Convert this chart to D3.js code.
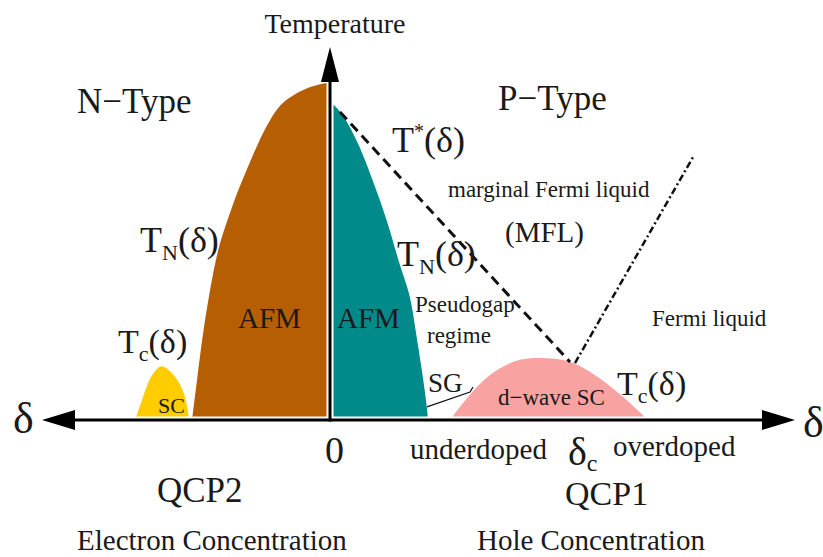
<!DOCTYPE html>
<html>
<head>
<meta charset="utf-8">
<script src="https://d3js.org/d3.v7.min.js"></script>
<style>
  body { margin: 0; background: #fff; }
  text { font-family: "Liberation Serif", "Times New Roman", serif; fill: #1a1a1a; }
</style>
</head>
<body>
<svg id="chart" width="823" height="557"></svg>
<script>
// doping delta (negative = electron side, positive = hole side), temperature T (1 = top of AFM dome)
const afmElectron = [[0, 1.0], [-0.005, 1.0], [-0.025, 0.985], [-0.042, 0.955], [-0.052, 0.929],
  [-0.062, 0.881], [-0.072, 0.822], [-0.082, 0.751], [-0.092, 0.682], [-0.100, 0.614],
  [-0.107, 0.555], [-0.112, 0.504], [-0.117, 0.436], [-0.123, 0.335], [-0.128, 0.237],
  [-0.133, 0.119], [-0.138, 0]];
const afmHole = [[0, 0.944], [0.010, 0.920], [0.020, 0.869], [0.030, 0.810], [0.040, 0.733],
  [0.050, 0.653], [0.060, 0.564], [0.070, 0.454], [0.080, 0.377], [0.085, 0.276],
  [0.092, 0.148], [0.097, 0.039], [0.098, 0]];
const scElectron = [[-0.195, 0], [-0.187, 0.068], [-0.180, 0.128], [-0.172, 0.157], [-0.167, 0.163],
  [-0.157, 0.139], [-0.148, 0.098], [-0.143, 0.050], [-0.141, 0]];
const scHole = [[0.120, 0], [0.137, 0.068], [0.160, 0.139], [0.183, 0.175], [0.197, 0.184],
  [0.217, 0.184], [0.237, 0.178], [0.253, 0.157], [0.277, 0.110], [0.297, 0.059], [0.318, 0]];
const tStar = [[0.010, 0.914], [0.240, 0.172]];
const mflBoundary = [[0.245, 0.169], [0.363, 0.780]];
const sgBoundary = [[0.097, 0.039], [0.140, 0.083], [0.143, 0.098]];
const deltaRange = [-0.288, 0.465];
const tempMax = 1.107;

const svg = d3.select('#chart');
const x = d3.scaleLinear().domain(deltaRange).range([42, 795]);
const y = d3.scaleLinear().domain([0, 1]).range([420, 83]);

const curve = d3.line().x(d => x(d[0])).y(d => y(d[1])).curve(d3.curveBasis);
const straight = d3.line().x(d => x(d[0])).y(d => y(d[1]));

// phase regions
svg.append('path').attr('d', curve(afmElectron) + 'L' + x(0) + ',' + y(0) + 'Z').attr('fill', '#b65e02');
svg.append('path').attr('d', curve(afmHole) + 'L' + x(0) + ',' + y(0) + 'Z').attr('fill', '#008a8a');
svg.append('path').attr('d', curve(scElectron) + 'Z').attr('fill', '#ffcc00');
svg.append('path').attr('d', curve(scHole) + 'Z').attr('fill', '#f9a2a2');

// crossover lines
svg.append('path').attr('d', straight(tStar)).attr('fill', 'none')
  .attr('stroke', '#111').attr('stroke-width', 3).attr('stroke-dasharray', '10,6');
svg.append('path').attr('d', straight(mflBoundary)).attr('fill', 'none')
  .attr('stroke', '#111').attr('stroke-width', 2.5).attr('stroke-dasharray', '7,3,2,3');
svg.append('path').attr('d', straight(sgBoundary)).attr('fill', 'none')
  .attr('stroke', '#111').attr('stroke-width', 1.2);

// axes with arrows
const ah = 33, aw = 10;
const x0 = x(0), y0 = y(0);
const xl = x(deltaRange[0]), xr = x(deltaRange[1]), yt = y(tempMax);
svg.append('line').attr('x1', xl + ah).attr('x2', xr - ah).attr('y1', y0).attr('y2', y0)
  .attr('stroke', '#fff').attr('stroke-width', 7);
svg.append('line').attr('x1', x0).attr('x2', x0).attr('y1', y0).attr('y2', yt + ah)
  .attr('stroke', '#fff').attr('stroke-width', 7);
svg.append('line').attr('x1', xl + ah).attr('x2', xr - ah).attr('y1', y0).attr('y2', y0)
  .attr('stroke', '#000').attr('stroke-width', 3);
svg.append('line').attr('x1', x0).attr('x2', x0).attr('y1', y0 + 1.5).attr('y2', yt + ah)
  .attr('stroke', '#000').attr('stroke-width', 3);
svg.append('path').attr('d', `M${xl},${y0}L${xl + ah},${y0 - aw}L${xl + ah},${y0 + aw}Z`).attr('fill', '#000');
svg.append('path').attr('d', `M${xr},${y0}L${xr - ah},${y0 - aw}L${xr - ah},${y0 + aw}Z`).attr('fill', '#000');
svg.append('path').attr('d', `M${x0},${yt}L${x0 - 9},${yt + ah + 2}L${x0 + 9},${yt + ah + 2}Z`).attr('fill', '#000');

// text
function label(px, py, parts, anchor) {
  const t = svg.append('text').attr('x', px).attr('y', py).attr('text-anchor', anchor || 'start');
  parts.forEach(p => t.append('tspan').attr('font-size', p[1]).attr('dy', p[2] || 0).text(p[0]));
}
label(335, 33, [['Temperature', 28]], 'middle');
label(77, 113, [['N\u2212Type', 35]]);
label(498, 110, [['P\u2212Type', 35]]);
label(392, 152, [['T', 36], ['*', 20, -14], ['(\u03b4)', 36, 14]]);
label(448, 197, [['marginal Fermi liquid', 23]]);
label(505, 242, [['(MFL)', 29]]);
label(140, 252, [['T', 36], ['N', 22, 8], ['(\u03b4)', 36, -8]]);
label(397, 266, [['T', 36], ['N', 22, 8], ['(\u03b4)', 36, -8]]);
label(238, 328, [['AFM', 29]]);
label(337, 328, [['AFM', 29]]);
label(415, 312, [['Pseudogap', 23]]);
label(427, 343, [['regime', 23]]);
label(652, 326, [['Fermi liquid', 23]]);
label(118, 353, [['T', 34], ['c', 22, 8], ['(\u03b4)', 34, -8]]);
label(617, 395, [['T', 34], ['c', 22, 8], ['(\u03b4)', 34, -8]]);
label(428, 392, [['SG', 27]]);
label(158, 413, [['SC', 22]]);
label(498, 405, [['d\u2212wave SC', 23]]);
label(13, 433, [['\u03b4', 44]]);
label(803, 437, [['\u03b4', 44]]);
label(325, 463, [['0', 38]]);
label(410, 459, [['underdoped', 29]]);
label(568, 465, [['\u03b4', 40], ['c', 24, 6]]);
label(613, 456, [['overdoped', 29]]);
label(157, 502, [['QCP2', 35]]);
label(565, 505, [['QCP1', 34]]);
label(77, 550, [['Electron Concentration', 29]]);
label(477, 550, [['Hole Concentration', 29]]);
</script>
</body>
</html>
